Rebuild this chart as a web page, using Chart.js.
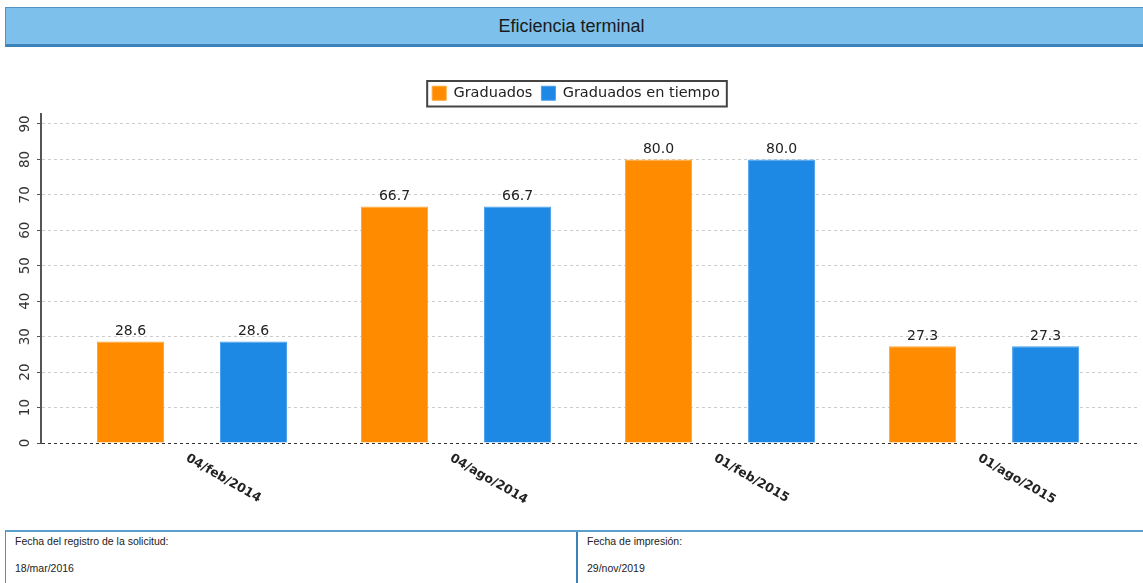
<!DOCTYPE html>
<html>
<head>
<meta charset="utf-8">
<script src="https://cdn.jsdelivr.net/npm/chart.js@4/dist/chart.umd.min.js"></script>
<style>
body { margin:0; background:#fff; width:1143px; height:583px; overflow:hidden; position:relative; font-family:"Liberation Sans", Arial, sans-serif; }
#header { position:absolute; left:5px; top:7px; width:1131px; padding-right:14px; height:36px; background:#7cc0eb; border:1px solid #4f93c2; border-bottom:3px solid #3a82b8; text-align:center; line-height:37px; font-size:18px; color:#1a1a1a; }
#chartBox { position:absolute; left:0; top:50px; width:1143px; height:475px; }
#footer { position:absolute; left:5px; top:530px; width:1145px; height:60px; border-top:2px solid #5b9fcc; border-left:1px solid #4f93c2; }
.cell { position:absolute; top:0; height:60px; font-size:10.5px; color:#222; }
.cell .lbl { position:absolute; top:3px; left:9px; white-space:nowrap; }
.cell .val { position:absolute; top:30px; left:9px; white-space:nowrap; }
#c1 { left:0; width:570px; border-right:2px solid #3a82b8; }
#c2 { left:572px; width:570px; }
</style>
</head>
<body>
<div id="header">Eficiencia terminal</div>
<div id="chartBox"><canvas id="grafica"></canvas></div>
<div id="footer">
  <div class="cell" id="c1"><div class="lbl">Fecha del registro de la solicitud:</div><div class="val">18/mar/2016</div></div>
  <div class="cell" id="c2"><div class="lbl">Fecha de impresión:</div><div class="val">29/nov/2019</div></div>
</div>
<script>
var categorias = ['04/feb/2014', '04/ago/2014', '01/feb/2015', '01/ago/2015'];
var graduados = [28.6, 66.7, 80.0, 27.3];
var graduadosTiempo = [28.6, 66.7, 80.0, 27.3];
var ticksY = [0, 10, 20, 30, 40, 50, 60, 70, 80, 90];

Chart.defaults.font.family = 'DejaVu Sans';
Chart.defaults.color = '#333';

function puntos(arr) {
	return arr.map(function(v, i) { return {x: i, y: v}; });
}

// valores encima de cada barra
var etiquetasValor = {
	id: 'etiquetasValor',
	afterDatasetsDraw: function(chart) {
		var ctx = chart.ctx;
		ctx.save();
		ctx.font = '14px "DejaVu Sans"';
		ctx.fillStyle = '#222';
		ctx.textAlign = 'center';
		ctx.textBaseline = 'bottom';
		chart.data.datasets.forEach(function(ds, d) {
			chart.getDatasetMeta(d).data.forEach(function(el, i) {
				ctx.fillText(ds.data[i].y.toFixed(1), el.x, el.y - 3);
			});
		});
		ctx.restore();
	}
};

// etiquetas del eje x giradas hacia abajo
var etiquetasX = {
	id: 'etiquetasX',
	afterDraw: function(chart) {
		var ctx = chart.ctx;
		var xs = chart.scales.x;
		var base = chart.chartArea.bottom;
		ctx.save();
		ctx.font = 'bold 12.5px "DejaVu Sans"';
		ctx.fillStyle = '#222';
		ctx.textAlign = 'left';
		ctx.textBaseline = 'top';
		categorias.forEach(function(c, i) {
			ctx.save();
			ctx.translate(xs.getPixelForValue(i) - 2, base + 9);
			ctx.rotate(30 * Math.PI / 180);
			ctx.fillText(c, 0, 0);
			ctx.restore();
		});
		ctx.restore();
	}
};

// leyenda un poco a la derecha, con recuadro y hueco debajo
var marcoLeyenda = {
	id: 'marcoLeyenda',
	beforeLayout: function(chart) {
		var lg = chart.legend;
		if (lg && !lg._ajustada) {
			var fit = lg.fit;
			lg.fit = function() {
				fit.call(this);
				this.height += 3.5;
			};
			lg._ajustada = true;
		}
	},
	afterLayout: function(chart) {
		var lg = chart.legend;
		lg.left += 7;
		lg.right += 7;
		lg.legendHitBoxes.forEach(function(h) { h.left += 7; });
	},
	afterDraw: function(chart) {
		var hb = chart.legend.legendHitBoxes;
		if (!hb || !hb.length) return;
		var l = hb[0].left - 5;
		var r = hb[hb.length - 1].left + hb[hb.length - 1].width + 7;
		var t = hb[0].top - 5;
		var b = hb[0].top + hb[0].height + 6;
		var ctx = chart.ctx;
		ctx.save();
		ctx.strokeStyle = '#444';
		ctx.lineWidth = 2;
		ctx.strokeRect(l, t, r - l, b - t);
		ctx.restore();
	}
};

new Chart(document.getElementById('grafica'), {
	type: 'bar',
	data: {
		datasets: [
			{
				label: 'Graduados',
				data: puntos(graduados),
				backgroundColor: '#ff8c00',
				borderColor: '#ffa733',
				borderWidth: 1,
				categoryPercentage: 0.932,
				barPercentage: 0.545
			},
			{
				label: 'Graduados en tiempo',
				data: puntos(graduadosTiempo),
				backgroundColor: '#1e88e5',
				borderColor: '#4a9fea',
				borderWidth: 1,
				categoryPercentage: 0.932,
				barPercentage: 0.545
			}
		]
	},
	options: {
		responsive: true,
		maintainAspectRatio: false,
		animation: false,
		layout: { padding: { top: 27, right: 5, left: 0, bottom: 0 } },
		plugins: {
			legend: {
				position: 'top',
				labels: {
					boxWidth: 14,
					boxHeight: 14,
					padding: 9,
					color: '#222',
					font: { size: 14.5 }
				}
			},
			tooltip: { enabled: false },
			title: { display: false }
		},
		scales: {
			x: {
				type: 'linear',
				offset: false,
				min: -0.572,
				max: 3.583,
				afterBuildTicks: function(s) {
					s.ticks = categorias.map(function(c, i) { return {value: i}; });
				},
				afterFit: function(s) { s.height = 82; },
				grid: { display: false },
				ticks: { display: false },
				border: { display: false }
			},
			y: {
				min: 0,
				max: 92.8,
				afterBuildTicks: function(s) {
					s.ticks = ticksY.map(function(v) { return {value: v}; });
				},
				afterFit: function(s) { s.width = 41; },
				ticks: {
					minRotation: 90,
					maxRotation: 90,
					crossAlign: 'center',
					padding: 3,
					color: '#333',
					font: { size: 13.5 }
				},
				grid: {
					color: function(c) { return c.tick && c.tick.value === 0 ? '#333' : '#ccc'; },
					lineWidth: 1,
					tickLength: 4,
					tickColor: '#555',
					tickBorderDash: []
				},
				border: { display: true, color: '#555', width: 2, dash: [3, 3] }
			}
		}
	},
	plugins: [etiquetasValor, etiquetasX, marcoLeyenda]
});
</script>
</body>
</html>
